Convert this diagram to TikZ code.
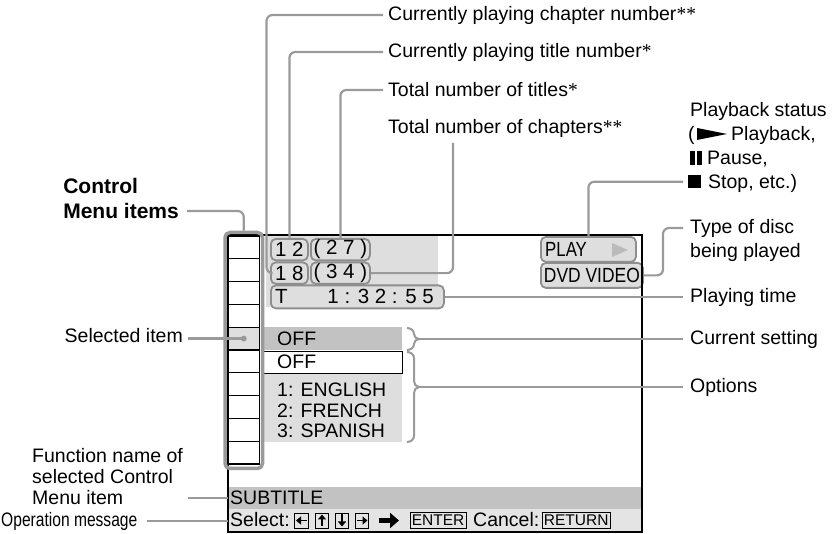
\documentclass[tikz,border=0pt]{standalone}
\usepackage{fontspec}
\setmainfont{Liberation Sans}
\newfontfamily\serifast{Liberation Serif}
\usepackage{graphicx}
\usetikzlibrary{arrows.meta}
\definecolor{lgray}{HTML}{DEDEDE}
\definecolor{mgray}{HTML}{C2C2C2}
\definecolor{rowgray}{HTML}{E4E4E4}
\definecolor{lnc}{HTML}{9A9A9A}
\definecolor{boxc}{HTML}{8E8E8E}
\definecolor{trig}{HTML}{BBBBBB}
\newcommand\lblfont{\fontsize{19.5}{23}\selectfont}
\newcommand\scrfont{\fontsize{19.5}{23}\selectfont}
\newcommand\digfont{\fontsize{20.5}{23}\selectfont}
\newcommand\keyfont{\fontsize{15.5}{17}\selectfont}
\newcommand\astx{{\serifast *}}
\begin{document}
\begin{tikzpicture}[x=1pt,y=-1pt,
 lbl/.style={font=\lblfont,inner sep=0pt,anchor=west},
 conn/.style={draw=lnc,line width=2.2pt,rounded corners=6pt},
 sbox/.style={draw=boxc,line width=1.8pt,rounded corners=5pt,fill=lgray,inner sep=0pt,anchor=north west,font=\digfont},
 scr/.style={font=\scrfont,inner sep=0pt,anchor=west},
 cell/.style={draw=black,line width=1.3pt},
 key/.style={draw=black,line width=0.8pt,inner sep=0pt,minimum width=13.5pt,minimum height=15pt},
 keyarrow/.style={-{Triangle[length=5pt,width=8pt]},line width=1.6pt},
 txtkey/.style={draw=black,line width=0.8pt,inner xsep=1.5pt,inner ysep=0pt,font=\keyfont,minimum height=16pt},
 brace/.style={draw=lnc,line width=2pt}
]
\useasboundingbox (0,0) rectangle (836,534);

% screen background
\fill[white] (228,235) rectangle (641.5,532);
\fill[lgray] (266,236) rectangle (438,307);

% status boxes
\node[sbox,minimum width=37pt,minimum height=21.5pt] (b12) at (270,238) {1 2};
\node[sbox,minimum width=59pt,minimum height=21.5pt] (b27) at (310,238) {( 2 7 )};
\node[sbox,minimum width=37pt,minimum height=21.5pt] (b18) at (270,261.5) {1 8};
\node[sbox,minimum width=59pt,minimum height=21.5pt] (b34) at (310,261.5) {( 3 4 )};
\node[sbox,minimum width=173pt,minimum height=23pt] (tbox) at (270,284.5) {};
\node[scr,font=\digfont] (tt) at (275,296) {T};
\node[scr,font=\digfont,anchor=east] (ttime) at (434,296) {1 : 3 2 : 5 5};

\node[sbox,minimum width=95pt,minimum height=25pt] (play) at (540,236) {};
\node[scr,font=\digfont] (playt) at (545,249) {\scalebox{0.82}[1]{PLAY}};
\fill[trig] (612,243) -- (628,250) -- (612,257) -- cycle;
\node[sbox,minimum width=102pt,minimum height=25pt] (dvd) at (540,262) {\scalebox{0.85}[1]{DVD VIDEO}};

% settings
\node[fill=mgray,minimum width=139pt,minimum height=23pt,inner sep=0pt,anchor=north west] (cur) at (263,327) {};
\node[scr] (curt) at (277,339) {OFF};
\fill[lgray] (263,373) rectangle (402,442);
\node[draw=black,line width=1.2pt,fill=white,minimum width=139pt,minimum height=22pt,inner sep=0pt,anchor=north west] (opt0) at (263,351) {};
\node[scr] (opt0t) at (277,362) {OFF};
\node[scr] (opt1) at (277,390) {1: ENGLISH};
\node[scr] (opt2) at (277,410.5) {2: FRENCH};
\node[scr] (opt3) at (277,431) {3: SPANISH};

% bottom bars
\node[fill=mgray,minimum width=413.5pt,minimum height=22pt,inner sep=0pt,anchor=north west] (subbar) at (228,487) {};
\node[scr] (subt) at (230,498) {SUBTITLE};
\node[fill=rowgray,minimum width=413.5pt,minimum height=23pt,inner sep=0pt,anchor=north west] (selrow) at (228,509) {};
\node[scr] (selt) at (230,520) {Select:};
\node[key] (kl) at (301.5,520.5) {};
\node[key] (ku) at (322,520.5) {};
\node[key] (kd) at (342,520.5) {};
\node[key] (kr) at (362,520.5) {};
\draw[keyarrow] ([xshift=5.5pt]kl.center) -- ([xshift=-5.5pt]kl.center);
\draw[keyarrow] ([yshift=-6pt]ku.center) -- ([yshift=6pt]ku.center);
\draw[keyarrow] ([yshift=6pt]kd.center) -- ([yshift=-6pt]kd.center);
\draw[keyarrow] ([xshift=-5.5pt]kr.center) -- ([xshift=5.5pt]kr.center);
\coordinate (ba1) at (379,520.5);
\coordinate (ba2) at (399,520.5);
\draw[line width=4.5pt,-{Triangle[length=9pt,width=15pt]}] (ba1) -- (ba2);
\node[txtkey,anchor=west] (kent) at (410,520.5) {ENTER};
\node[scr] (canc) at (473,520) {Cancel:};
\node[txtkey,anchor=west] (kret) at (542,520.5) {RETURN};

% screen border
\draw[black,line width=2pt] (228,235) rectangle (641.5,532);

% menu column
\fill[lgray] (228,327.2) rectangle (259.5,350);
\foreach \i in {0,...,9} \draw[cell] (228,{236+22.8*\i}) rectangle (259.5,{236+22.8*(\i+1)});
\node[circle,fill=lnc,inner sep=0pt,minimum size=6pt] (dot) at (243.75,338.6) {};
\node[draw=lnc,line width=3.5pt,rounded corners=5pt,minimum width=37.5pt,minimum height=236pt,inner sep=0pt] (mframe) at (243.75,350.5) {};

% labels
\node[lbl] (l1) at (388,15) {Currently playing chapter number\astx\astx};
\node[lbl] (l2) at (388,52) {Currently playing title number\astx};
\node[lbl] (l3) at (388,90) {Total number of titles\astx};
\node[lbl] (l4) at (388,128) {Total number of chapters\astx\astx};
\node[lbl,anchor=base west] (l5a) at (690,117) {Playback status};
\node[lbl,anchor=base west] (l5b) at (688,141) {(};
\fill (697,128) -- (727,134) -- (697,140) -- cycle;
\node[lbl,anchor=base west] (l5b2) at (731,141) {Playback,};
\fill (690,151) rectangle (695,165);
\fill (696.8,151) rectangle (701.8,165);
\node[lbl,anchor=base west] (l5c) at (707,165) {Pause,};
\node[fill=black,inner sep=0pt,minimum size=13pt,anchor=north west] (sq) at (688,175) {};
\node[lbl,anchor=base west] (l5d) at (708,189) {Stop, etc.)};
\node[lbl] (l6a) at (690,228) {Type of disc};
\node[lbl] (l6b) at (690,252) {being played};
\node[lbl] (l7) at (690,297) {Playing time};
\node[lbl] (l8) at (690,339) {Current setting};
\node[lbl] (l9) at (690,387) {Options};
\node[lbl,font=\fontsize{21}{24}\selectfont\bfseries,anchor=east] (lc2) at (179,211) {Menu items};
\node[lbl,font=\fontsize{21}{24}\selectfont\bfseries] (lc1) at ([yshift=25pt]lc2.west) {Control};
\node[lbl,anchor=east] (lsel) at (183,336) {Selected item};
\node[lbl] (lf1) at (32,456) {Function name of};
\node[lbl] (lf2) at (32,477) {selected Control};
\node[lbl] (lf3) at (32,498) {Menu item};
\node[lbl] (lop) at (1,521) {\scalebox{0.8}[1]{Operation message}};

% connectors
\draw[conn] ([xshift=-5pt]l1.west) -| ([xshift=-3.5pt]b18.west) -- (b18.west);
\draw[conn] ([xshift=-5pt]l2.west) -| (b12.north);
\draw[conn] ([xshift=-5pt]l3.west) -| (b27.north);
\coordinate (c4) at (453,143);
\draw[conn] (c4) |- (b34.east);
\draw[conn] ([xshift=-5pt]sq.west) -| (play.north);
\draw[conn] ([xshift=-7pt]l6a.west) -- ++(-20,0) |- (dvd.east);
\path ([xshift=-7pt]l7.west) coordinate (l7e);
\draw[conn] (tbox.east) -- (tbox.east -| l7e);
\draw[brace] (407,328) to[out=0,in=90] (414,334) to[out=-90,in=180] (419,339) to[out=180,in=90] (414,344) to[out=-90,in=0] (407,350);
\draw[brace] (407,352) to[out=0,in=90] (414,358) -- (414,381) to[out=-90,in=180] (419,387) to[out=180,in=90] (414,393) -- (414,436) to[out=-90,in=0] (407,442);
\coordinate (bc1) at (419,339);
\coordinate (bc2) at (419,387);
\path ([xshift=-7pt]l8.west) coordinate (l8e);
\path ([xshift=-7pt]l9.west) coordinate (l9e);
\draw[conn] (bc1) -- (bc1 -| l8e);
\draw[conn] (bc2) -- (bc2 -| l9e);
\draw[conn] ([xshift=8pt]lc2.east) -| (mframe.north);
\path ([xshift=5pt]lsel.east) coordinate (lse);
\draw[conn] (lse |- dot) -- (dot);
\coordinate (fe) at (188,498);
\draw[conn] (fe) -- (fe -| subbar.west);
\coordinate (oe) at (147,521);
\draw[conn] (oe) -- (oe -| selrow.west);
\end{tikzpicture}
\end{document}
